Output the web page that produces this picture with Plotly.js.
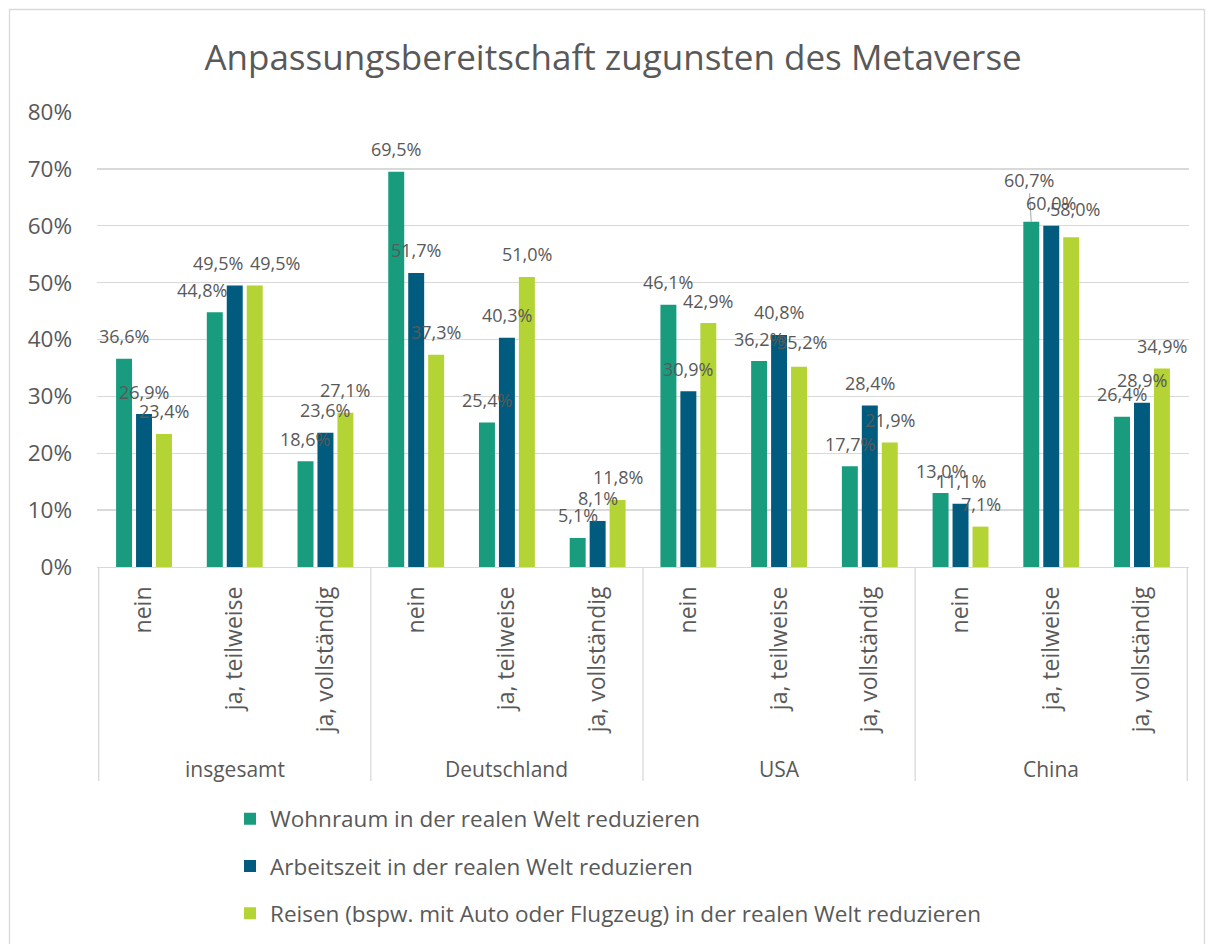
<!DOCTYPE html>
<html>
<head>
<meta charset="utf-8">
<script src="https://cdn.plot.ly/plotly-3.0.1.min.js"></script>
<style>html,body{margin:0;padding:0;background:#fff;}#chart{width:1214px;height:944px;}</style>
</head>
<body>
<div id="chart"></div>
<script>
// ---- data ----
var groups = ['insgesamt', 'Deutschland', 'USA', 'China'];
var answers = ['nein', 'ja, teilweise', 'ja, vollständig'];
var seriesNames = [
  'Wohnraum in der realen Welt reduzieren',
  'Arbeitszeit in der realen Welt reduzieren',
  'Reisen (bspw. mit Auto oder Flugzeug) in der realen Welt reduzieren'
];
var wohnraum    = [36.6, 44.8, 18.6, 69.5, 25.4, 5.1, 46.1, 36.2, 17.7, 13.0, 60.7, 26.4];
var arbeitszeit = [26.9, 49.5, 23.6, 51.7, 40.3, 8.1, 30.9, 40.8, 28.4, 11.1, 60.0, 28.9];
var reisen      = [23.4, 49.5, 27.1, 37.3, 51.0, 11.8, 42.9, 35.2, 21.9, 7.1, 58.0, 34.9];
var yTicks = [0, 10, 20, 30, 40, 50, 60, 70, 80];
var yTickText = ['0%', '10%', '20%', '30%', '40%', '50%', '60%', '70%', '80%'];

// ---- styling ----
var colors = ['#199C7E', '#005B7F', '#B4D335'];
var textColor = '#595959';
var gridColor = '#d9d9d9';
var font = 'Open Sans, Noto Sans, sans-serif';
var W = 1214, H = 944;
var mL = 97, mR = 25, mT = 112, mB = 377;
var plotW = W - mL - mR, plotH = H - mT - mB;
var bargap = 0.34, bargroupgap = 0.2;
// label nudges (series index, point index) -> [dx, dy] in px
var nudges = {
  '0-1': [-12.5, 0], '1-1': [-17, 0], '2-1': [20.5, 0],
  '2-7': [2.5, -2.5], '2-10': [3.5, -5.5]
};
var leader = {'0-10': [-2.5, -42]};

var keys = [], tickText = [];
groups.forEach(function (g) {
  answers.forEach(function (a) { keys.push(g + ' | ' + a); tickText.push(a); });
});
var allSeries = [wohnraum, arbeitszeit, reisen];

var traces = allSeries.map(function (vals, s) {
  return {
    type: 'bar', x: keys, y: vals, name: seriesNames[s],
    marker: {color: colors[s]}, legendgroup: 'g' + s,
    hoverinfo: 'skip'
  };
});

function fmt(v) { return v.toFixed(1).replace('.', ',') + '%'; }

var catW = plotW / keys.length;
var slot = catW * (1 - bargap) / 3;
var labelSize = 18;
var annotations = [];
allSeries.forEach(function (vals, s) {
  vals.forEach(function (v, i) {
    var k = s + '-' + i;
    var baseDx = (s - 1) * slot;
    if (leader[k]) {
      annotations.push({
        x: keys[i], y: v, xref: 'x', yref: 'y', text: fmt(v),
        showarrow: true, arrowhead: 0, arrowwidth: 1, arrowcolor: '#a6a6a6',
        ax: leader[k][0], ay: leader[k][1], xshift: baseDx, standoff: 0,
        font: {family: font, size: labelSize, color: textColor}
      });
      return;
    }
    var n = nudges[k] || [0, 0];
    annotations.push({
      x: keys[i], y: v, xref: 'x', yref: 'y', text: fmt(v), showarrow: false,
      xanchor: 'center', yanchor: 'middle',
      xshift: baseDx + n[0], yshift: 22.5 - n[1],
      font: {family: font, size: labelSize, color: textColor}
    });
  });
});

function py(px) { return (mT + plotH - px) / plotH; }
function pxX(px) { return (px - mL) / plotW; }

groups.forEach(function (g, gi) {
  annotations.push({
    x: keys[gi * 3 + 1], xref: 'x', y: py(769), yref: 'paper', text: g,
    showarrow: false, xanchor: 'center', yanchor: 'middle',
    font: {family: font, size: 21, color: textColor}
  });
});

var shapes = [];
for (var gi = 0; gi <= groups.length; gi++) {
  shapes.push({
    type: 'line', xref: 'x', yref: 'paper',
    x0: gi * 3 - 0.5, x1: gi * 3 - 0.5, y0: 0, y1: py(781),
    line: {color: gridColor, width: 1.3}
  });
}
// outer chart border
shapes.push({
  type: 'rect', xref: 'paper', yref: 'paper',
  x0: pxX(9.5), x1: pxX(1204.5), y0: py(960), y1: py(9.5),
  line: {color: gridColor, width: 1.3}, fillcolor: 'rgba(0,0,0,0)', layer: 'below'
});

var layout = {
  width: W, height: H,
  margin: {l: mL, r: mR, t: mT, b: mB, pad: 0, autoexpand: false},
  paper_bgcolor: '#ffffff', plot_bgcolor: '#ffffff',
  separators: ', ',
  font: {family: font, color: textColor},
  title: {
    text: 'Anpassungsbereitschaft zugunsten des Metaverse',
    font: {family: font, size: 35, color: textColor},
    xref: 'container', x: 0.505, xanchor: 'center',
    yref: 'container', y: 1 - 58 / H, yanchor: 'middle'
  },
  barmode: 'group', bargap: bargap, bargroupgap: bargroupgap,
  xaxis: {
    type: 'category', tickvals: keys, ticktext: tickText, tickangle: -90,
    tickfont: {family: font, size: 23, color: textColor},
    ticks: '', showgrid: false, showline: true, linecolor: gridColor, linewidth: 1.3,
    ticklabelstandoff: 9, fixedrange: true, automargin: false
  },
  yaxis: {
    range: [0, 80], tickvals: yTicks, ticktext: yTickText,
    tickfont: {family: font, size: 22.5, color: textColor},
    showgrid: true, gridcolor: gridColor, gridwidth: 1.3, zeroline: false,
    ticks: '', showline: false, ticklabelstandoff: 24, fixedrange: true, automargin: false
  },
  showlegend: true,
  legend: {
    orientation: 'v', x: pxX(230), xanchor: 'left', y: py(797.5), yanchor: 'top',
    font: {family: font, size: 22.5, color: textColor},
    tracegroupgap: 15, traceorder: 'grouped', bgcolor: 'rgba(0,0,0,0)'
  },
  annotations: annotations,
  shapes: shapes
};

Plotly.newPlot('chart', traces, layout, {displayModeBar: false, staticPlot: true});
</script>
</body>
</html>
